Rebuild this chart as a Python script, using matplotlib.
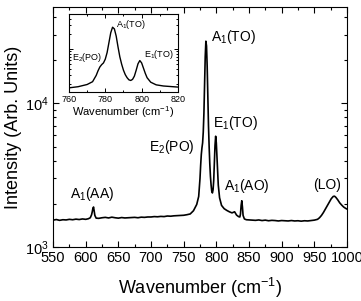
import matplotlib
matplotlib.use("Agg")
import matplotlib.pyplot as plt
from matplotlib.ticker import MultipleLocator, LogLocator, NullFormatter

plt.rcParams["font.family"] = ["Liberation Sans", "DejaVu Sans"]
plt.rcParams["mathtext.fontset"] = "custom"
plt.rcParams["mathtext.rm"] = "Liberation Sans"
plt.rcParams["mathtext.it"] = "Liberation Sans"
plt.rcParams["mathtext.default"] = "regular"

# Raman spectrum (wavenumber cm^-1, intensity arb. units)
wavenumber = [
    550, 555, 560, 565, 570, 575, 580, 585, 590, 595, 600, 604, 607, 609, 610, 611, 612, 613, 614, 616,
    620, 625, 630, 635, 640, 645, 650, 655, 660, 665, 670, 675, 680, 685, 690, 695, 700, 705, 710, 715,
    720, 725, 730, 735, 740, 745, 750, 755, 760, 765, 770, 773, 775, 776, 777, 778, 779, 780, 781, 782,
    783, 784, 785, 786, 787, 788, 789, 790, 791, 792, 793, 794, 795, 796, 797, 798, 799, 800, 801, 802,
    803, 805, 808, 812, 816, 820, 824, 828, 831, 834, 836, 837, 838, 839, 840, 841, 843, 846, 850, 855,
    860, 865, 870, 875, 880, 885, 890, 895, 900, 905, 910, 915, 920, 925, 930, 935, 940, 945, 950, 955,
    958, 961, 964, 967, 970, 973, 976, 979, 981, 983, 986, 989, 992, 995, 998, 1000,
]
intensity = [
    1540, 1555, 1535, 1550, 1545, 1560, 1550, 1565, 1555, 1570, 1560, 1575, 1600, 1680, 1760, 1860, 1900, 1780, 1660, 1590,
    1585, 1600, 1610, 1595, 1615, 1600, 1590, 1605, 1595, 1600, 1605, 1610, 1600, 1615, 1610, 1620, 1620, 1630, 1625, 1635,
    1630, 1645, 1640, 1650, 1655, 1660, 1665, 1680, 1700, 1790, 1980, 2250, 3000, 3700, 4400, 4900, 5300, 6300, 8500, 13500,
    21000, 27000, 25000, 18000, 11000, 7000, 5000, 3800, 3100, 2700, 2450, 2380, 2500, 2900, 3800, 5100, 5900, 5300, 4200, 3300,
    2700, 2200, 1950, 1850, 1800, 1760, 1730, 1760, 1670, 1630, 1620, 1700, 1950, 2100, 1900, 1660, 1570, 1550, 1545, 1540,
    1535, 1545, 1530, 1540, 1525, 1535, 1530, 1520, 1530, 1525, 1520, 1530, 1520, 1525, 1515, 1525, 1520, 1530, 1540, 1560,
    1600, 1660, 1740, 1840, 1950, 2060, 2170, 2250, 2260, 2220, 2130, 2030, 1960, 1900, 1860, 1840,
]

peak_labels = ["A$_1$(AA)", "E$_2$(PO)", "A$_1$(TO)", "E$_1$(TO)", "A$_1$(AO)", "(LO)"]
peak_label_x = [610, 732, 826, 830, 847, 969]
peak_label_y = [2340, 4970, 28900, 7300, 2650, 2700]

inset_labels = ["E$_2$(PO)", "A$_1$(TO)", "E$_1$(TO)"]
inset_label_x = [770, 794, 809.5]
inset_label_y = [6800, 31000, 7800]

fig = plt.figure(figsize=(3.61, 3.01), dpi=100)
ax = fig.add_axes([0.147, 0.179, 0.814, 0.797])
ax.plot(wavenumber, intensity, color="black", linewidth=1.2)
ax.set_yscale("log")
ax.set_xlim(550, 1000)
ax.set_ylim(1000, 46500)
ax.xaxis.set_major_locator(MultipleLocator(50))
ax.xaxis.set_minor_locator(MultipleLocator(25))
ax.yaxis.set_major_locator(LogLocator(base=10))
ax.yaxis.set_minor_locator(LogLocator(base=10, subs=range(2, 10)))
ax.yaxis.set_minor_formatter(NullFormatter())
ax.tick_params(which="both", direction="in", top=True, right=True, labelsize=10.5, pad=3)
ax.tick_params(which="major", length=4, width=0.8)
ax.tick_params(which="minor", length=2.5, width=0.8)
ax.set_xlabel("Wavenumber (cm$^{-1}$)", fontsize=13, labelpad=8)
ax.set_ylabel("Intensity (Arb. Units)", fontsize=13, labelpad=2)
for lab, x, y in zip(peak_labels, peak_label_x, peak_label_y):
    ax.text(x, y, lab, fontsize=10, ha="center", va="center")

ins = fig.add_axes([0.191, 0.694, 0.302, 0.259])
ins.plot(wavenumber, intensity, color="black", linewidth=1.0)
ins.set_yscale("log")
ins.set_xlim(760, 820)
ins.set_ylim(1400, 49000)
ins.xaxis.set_major_locator(MultipleLocator(20))
ins.xaxis.set_minor_locator(MultipleLocator(10))
ins.yaxis.set_major_formatter(NullFormatter())
ins.yaxis.set_minor_formatter(NullFormatter())
ins.tick_params(which="both", direction="in", top=True, right=True, labelsize=6.5, pad=2)
ins.tick_params(which="major", length=3, width=0.7)
ins.tick_params(which="minor", length=1.5, width=0.7)
ins.set_xlabel("Wavenumber (cm$^{-1}$)", fontsize=8, labelpad=0)
for lab, x, y in zip(inset_labels, inset_label_x, inset_label_y):
    ins.text(x, y, lab, fontsize=6.5, ha="center", va="center")

fig.savefig("out.png", dpi=100)
